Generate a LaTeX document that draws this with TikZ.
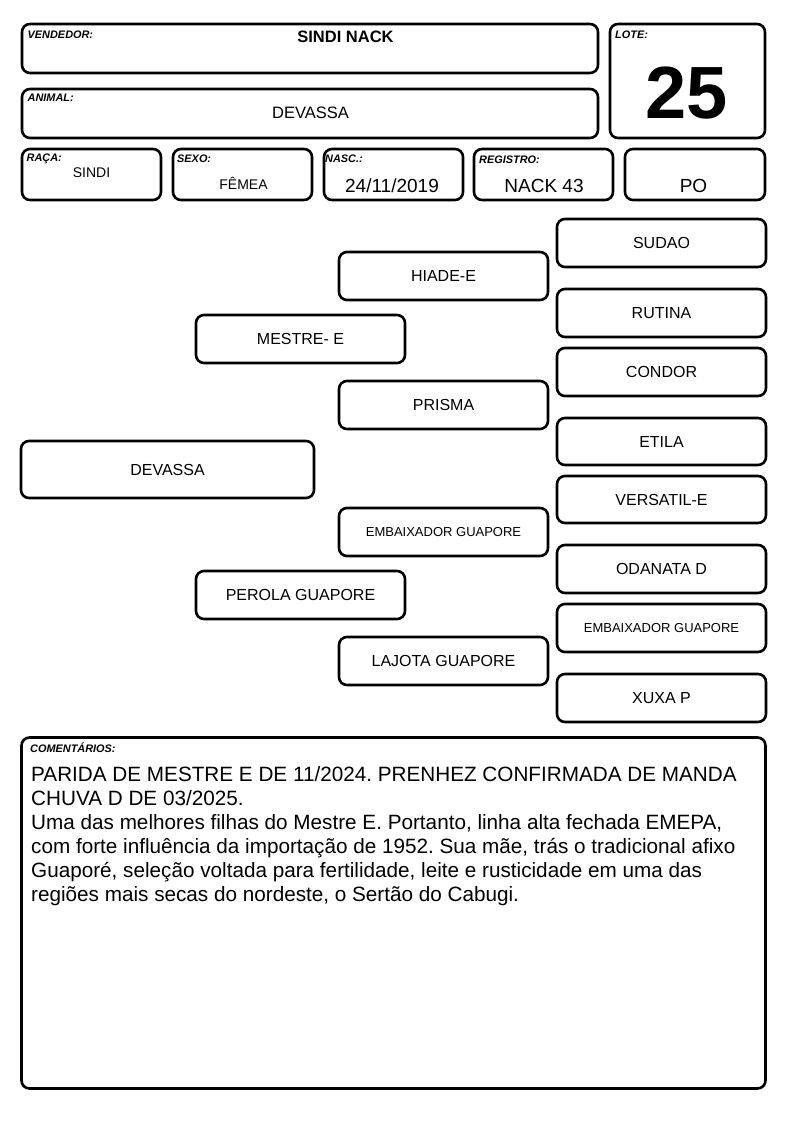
\documentclass[tikz,border=0pt]{standalone}
\usepackage{fontspec}
\setmainfont{Liberation Sans}
\frenchspacing
\begin{document}
\begin{tikzpicture}[x=1pt,y=-1pt,
  box/.style={draw=black,line width=2.6pt,rounded corners=8pt,inner sep=0pt,align=center},
  lbl/.style={inner sep=0pt,anchor=base west,font=\fontsize{10.9}{12}\selectfont\bfseries\itshape},
  val/.style={inner sep=0pt,anchor=base,font=\fontsize{14}{16}\selectfont},
  ped/.style={box,font=\fontsize{16}{18}\selectfont},
  com/.style={inner sep=0pt,anchor=base west,font=\fontsize{20.7}{24}\selectfont}]
\useasboundingbox (0,0) rectangle (794,1123);
\newcommand\pbox[6]{\node[ped,minimum width={#4-#2},minimum height={#5-#3}] (#1) at ({(#2+#4)/2},{(#3+#5)/2}) {#6};}
% header boxes
\node[box,minimum width=576pt,minimum height=49pt] (vend) at (310,48.5) {};
\node[box,minimum width=155pt,minimum height=114pt] (lote) at (687.5,81) {};
\node[box,minimum width=576pt,minimum height=49pt] (anim) at (310,113.5) {};
\node[box,minimum width=139pt,minimum height=51pt] (raca) at (91.5,174.5) {};
\node[box,minimum width=139pt,minimum height=51pt] (sexo) at (242.5,174.5) {};
\node[box,minimum width=139pt,minimum height=51pt] (nasc) at (393.5,174.5) {};
\node[box,minimum width=139pt,minimum height=51pt] (regi) at (543.5,174.5) {};
\node[box,minimum width=140pt,minimum height=51pt] (po) at (695,174.5) {};
% labels
\node[lbl] (lvend) at (27.5,39) {VENDEDOR:};
\node[lbl] (llote) at (615,39) {LOTE:};
\node[lbl] (lanim) at (27.5,102) {ANIMAL:};
\node[lbl] (lraca) at (26.5,162) {RAÇA:};
\node[lbl] (lsexo) at (177,163) {SEXO:};
\node[lbl] (lnasc) at (325,163) {NASC.:};
\node[lbl] (lregi) at (479,164) {REGISTRO:};
% values
\node[val,font=\fontsize{16.5}{18}\selectfont\bfseries] (tvend) at (345.5,43) {SINDI NACK};
\node[val,font=\fontsize{74}{80}\selectfont\bfseries] (tlote) at (687,119) {25};
\node[val,font=\fontsize{16.5}{18}\selectfont] (tanim) at (310.5,119) {DEVASSA};
\node[val] (traca) at (91.5,178) {SINDI};
\node[val] (tsexo) at (243.5,189.5) {FÊMEA};
\node[val,font=\fontsize{19}{21}\selectfont] (tnasc) at (392,193) {24/11/2019};
\node[val,font=\fontsize{19}{21}\selectfont] (tregi) at (544,193) {NACK 43};
\node[val,font=\fontsize{19}{21}\selectfont] (tpo) at (693.5,193) {PO};
% pedigree
\pbox{p1}{557}{219}{766}{267}{SUDAO}
\pbox{p2}{339}{252}{548}{300}{HIADE-E}
\pbox{p3}{557}{289}{766}{337}{RUTINA}
\pbox{p4}{196}{315}{405}{363}{MESTRE- E}
\pbox{p5}{557}{348}{766}{396}{CONDOR}
\pbox{p6}{339}{381}{548}{429}{PRISMA}
\pbox{p7}{557}{418}{766}{465}{ETILA}
\pbox{p8}{21}{441}{314}{498}{DEVASSA}
\pbox{p9}{557}{476}{766}{523}{VERSATIL-E}
\pbox{p10}{339}{508}{548}{556}{\fontsize{13}{15}\selectfont EMBAIXADOR GUAPORE}
\pbox{p11}{557}{545}{766}{593}{ODANATA D}
\pbox{p12}{196}{571}{405}{619}{PEROLA GUAPORE}
\pbox{p13}{557}{604}{766}{652}{\fontsize{13}{15}\selectfont EMBAIXADOR GUAPORE}
\pbox{p14}{339}{637}{548}{685}{LAJOTA GUAPORE}
\pbox{p15}{557}{674}{766}{722}{XUXA P}
% comments
\node[box,minimum width=744pt,minimum height=351pt] (coment) at (393.5,913) {};
\node[lbl] (lcom) at (30,752) {COMENTÁRIOS:};
\node[com] (c1) at (31,781) {PARIDA DE MESTRE E DE 11/2024. PRENHEZ CONFIRMADA DE MANDA};
\node[com] (c2) at (31,805) {CHUVA D DE 03/2025.};
\node[com] (c3) at (31,829) {Uma das melhores filhas do Mestre E. Portanto, linha alta fechada EMEPA,};
\node[com] (c4) at (31,853) {com forte influência da importação de 1952. Sua mãe, trás o tradicional afixo};
\node[com] (c5) at (31,877) {Guaporé, seleção voltada para fertilidade, leite e rusticidade em uma das};
\node[com] (c6) at (31,901) {regiões mais secas do nordeste, o Sertão do Cabugi.};
\end{tikzpicture}
\end{document}
